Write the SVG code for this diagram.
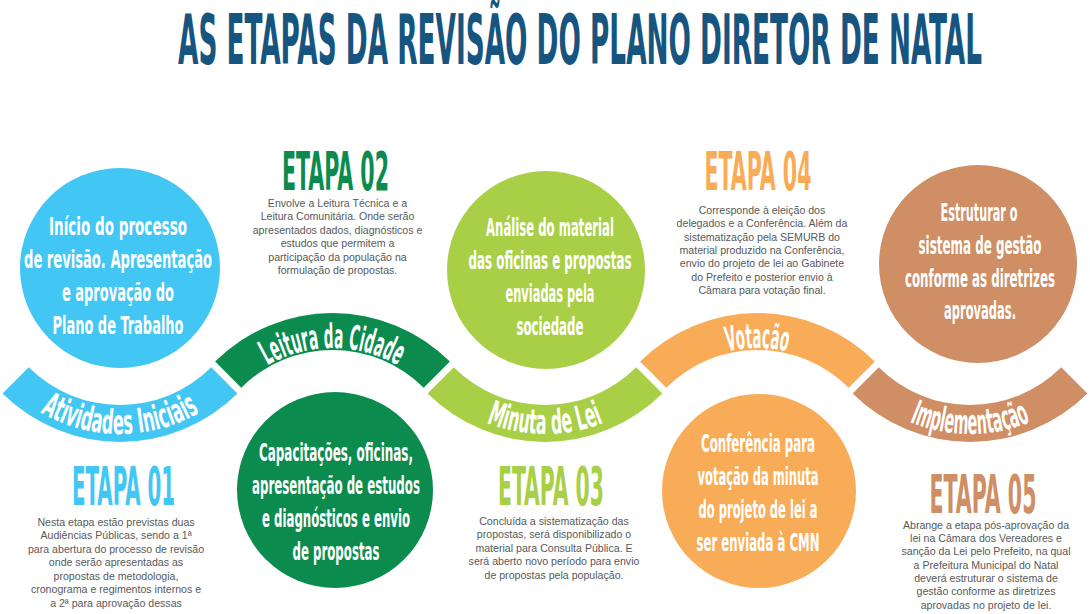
<svg xmlns="http://www.w3.org/2000/svg" width="1090" height="614" viewBox="0 0 1090 614">
<style>
.d{font-family:"Liberation Sans Narrow","DejaVu Sans Condensed","Liberation Sans",sans-serif;font-weight:bold}
.ti{font-size:70px;fill:#16557F;text-anchor:middle}
.ct{font-size:25px;fill:#fff;text-anchor:middle}
.bl{font-size:34px;fill:#fff;text-anchor:middle}
.h{font-size:54px;text-anchor:middle}
.p{font-family:"Liberation Sans",Arial,sans-serif;font-size:10.6px;fill:#58595B;text-anchor:middle}
.c1{fill:#42C6F4}.c2{fill:#0C8B4F}.c3{fill:#A9CF46}.c4{fill:#F9AC58}.c5{fill:#CF8E64}
</style>
<defs>
<path id="tp1" d="M 8.28 387.72 A 158 158 0 0 0 231.72 387.72"/>
<path id="tp2" d="M 239.87 386.37 A 131 131 0 0 1 425.13 386.37"/>
<path id="tp3" d="M 433.28 387.72 A 158 158 0 0 0 656.72 387.72"/>
<path id="tp4" d="M 664.87 386.37 A 131 131 0 0 1 850.13 386.37"/>
<path id="tp5" d="M 858.28 387.72 A 158 158 0 0 0 1081.72 387.72"/>
</defs>
<rect width="1090" height="614" fill="#fff"/>
<text class="d ti" x="580" y="64" textLength="804" lengthAdjust="spacingAndGlyphs">AS ETAPAS DA REVISÃO DO PLANO DIRETOR DE NATAL</text>

<g id="connectors"/>

<g id="etapa01">
<path class="c1" d="M 2.62 393.38 A 166 166 0 0 0 237.38 393.38 L 211.22 367.22 A 129 129 0 0 1 28.78 367.22 Z"/>
<text class="d bl"><textPath href="#tp1" startOffset="50%" textLength="167" lengthAdjust="spacingAndGlyphs">Atividades Iniciais</textPath></text>
<circle class="c1" cx="120" cy="268" r="100"/>
<text class="d ct" x="118" y="235" textLength="138" lengthAdjust="spacingAndGlyphs">Início do processo</text>
<text class="d ct" x="118" y="268" textLength="188" lengthAdjust="spacingAndGlyphs">de revisão. Apresentação</text>
<text class="d ct" x="118" y="301" textLength="112" lengthAdjust="spacingAndGlyphs">e aprovação do</text>
<text class="d ct" x="118" y="334" textLength="131" lengthAdjust="spacingAndGlyphs">Plano de Trabalho</text>
<text class="d h c1" x="123.5" y="505" textLength="103" lengthAdjust="spacingAndGlyphs">ETAPA 01</text>
<text class="p" x="116" y="526">Nesta etapa estão previstas duas</text>
<text class="p" x="116" y="539.45">Audiências Públicas, sendo a 1ª</text>
<text class="p" x="116" y="552.9">para abertura do processo de revisão</text>
<text class="p" x="116" y="566.35">onde serão apresentadas as</text>
<text class="p" x="116" y="579.8">propostas de metodologia,</text>
<text class="p" x="116" y="593.25">cronograma e regimentos internos e</text>
<text class="p" x="116" y="606.7">a 2ª para aprovação dessas</text>
</g>

<g id="etapa02">
<path class="c2" d="M 215.12 361.62 A 166 166 0 0 1 449.88 361.62 L 423.72 387.78 A 129 129 0 0 0 241.28 387.78 Z"/>
<text class="d bl"><textPath href="#tp2" startOffset="50%" textLength="136" lengthAdjust="spacingAndGlyphs">Leitura da Cidade</textPath></text>
<circle class="c2" cx="335" cy="490" r="98"/>
<text class="d ct" x="336" y="461" textLength="154" lengthAdjust="spacingAndGlyphs">Capacitações, oficinas,</text>
<text class="d ct" x="336" y="494" textLength="168" lengthAdjust="spacingAndGlyphs">apresentação de estudos</text>
<text class="d ct" x="336" y="527" textLength="148" lengthAdjust="spacingAndGlyphs">e diagnósticos e envio</text>
<text class="d ct" x="336" y="560" textLength="87" lengthAdjust="spacingAndGlyphs">de propostas</text>
<text class="d h c2" x="335.5" y="190" textLength="107" lengthAdjust="spacingAndGlyphs">ETAPA 02</text>
<text class="p" x="337.5" y="206.7">Envolve a Leitura Técnica e a</text>
<text class="p" x="337.5" y="220.15">Leitura Comunitária. Onde serão</text>
<text class="p" x="337.5" y="233.6">apresentados dados, diagnósticos e</text>
<text class="p" x="337.5" y="247.05">estudos que permitem a</text>
<text class="p" x="337.5" y="260.5">participação da população na</text>
<text class="p" x="337.5" y="273.95">formulação de propostas.</text>
</g>

<g id="etapa03">
<path class="c3" d="M 427.62 393.38 A 166 166 0 0 0 662.38 393.38 L 636.22 367.22 A 129 129 0 0 1 453.78 367.22 Z"/>
<text class="d bl"><textPath href="#tp3" startOffset="50%" textLength="120" lengthAdjust="spacingAndGlyphs">Minuta de Lei</textPath></text>
<circle class="c3" cx="546" cy="270" r="99"/>
<text class="d ct" x="550" y="236" textLength="128" lengthAdjust="spacingAndGlyphs">Análise do material</text>
<text class="d ct" x="550" y="269" textLength="163" lengthAdjust="spacingAndGlyphs">das oficinas e propostas</text>
<text class="d ct" x="550" y="302" textLength="89" lengthAdjust="spacingAndGlyphs">enviadas pela</text>
<text class="d ct" x="550" y="335" textLength="67" lengthAdjust="spacingAndGlyphs">sociedade</text>
<text class="d h c3" x="551" y="505" textLength="106" lengthAdjust="spacingAndGlyphs">ETAPA 03</text>
<text class="p" x="554" y="525">Concluída a sistematização das</text>
<text class="p" x="554" y="538.45">propostas, será disponibilizado o</text>
<text class="p" x="554" y="551.9">material para Consulta Pública. E</text>
<text class="p" x="554" y="565.35">será aberto novo período para envio</text>
<text class="p" x="554" y="578.8">de propostas pela população.</text>
</g>

<g id="etapa04">
<path class="c4" d="M 640.12 361.62 A 166 166 0 0 1 874.88 361.62 L 848.72 387.78 A 129 129 0 0 0 666.28 387.78 Z"/>
<text class="d bl"><textPath href="#tp4" startOffset="50%" textLength="60" lengthAdjust="spacingAndGlyphs">Votação</textPath></text>
<circle class="c4" cx="759" cy="491" r="97"/>
<text class="d ct" x="758" y="452" textLength="114" lengthAdjust="spacingAndGlyphs">Conferência para</text>
<text class="d ct" x="758" y="485" textLength="121" lengthAdjust="spacingAndGlyphs">votação da minuta</text>
<text class="d ct" x="758" y="518" textLength="119" lengthAdjust="spacingAndGlyphs">do projeto de lei a</text>
<text class="d ct" x="758" y="551" textLength="123" lengthAdjust="spacingAndGlyphs">ser enviada à CMN</text>
<text class="d h c4" x="758" y="190" textLength="107" lengthAdjust="spacingAndGlyphs">ETAPA 04</text>
<text class="p" x="762" y="214">Corresponde à eleição dos</text>
<text class="p" x="762" y="227.35">delegados e a Conferência. Além da</text>
<text class="p" x="762" y="240.7">sistematização pela SEMURB do</text>
<text class="p" x="762" y="254.05">material produzido na Conferência,</text>
<text class="p" x="762" y="267.4">envio do projeto de lei ao Gabinete</text>
<text class="p" x="762" y="280.75">do Prefeito e posterior envio à</text>
<text class="p" x="762" y="294.1">Câmara para votação final.</text>
</g>

<g id="etapa05">
<path class="c5" d="M 852.62 393.38 A 166 166 0 0 0 1087.38 393.38 L 1061.22 367.22 A 129 129 0 0 1 878.78 367.22 Z"/>
<text class="d bl"><textPath href="#tp5" startOffset="50%" textLength="124" lengthAdjust="spacingAndGlyphs">Implementação</textPath></text>
<circle class="c5" cx="978" cy="264" r="99"/>
<text class="d ct" x="979" y="221" textLength="77" lengthAdjust="spacingAndGlyphs">Estruturar o</text>
<text class="d ct" x="980" y="254" textLength="123" lengthAdjust="spacingAndGlyphs">sistema de gestão</text>
<text class="d ct" x="980" y="287" textLength="150" lengthAdjust="spacingAndGlyphs">conforme as diretrizes</text>
<text class="d ct" x="980" y="319" textLength="72" lengthAdjust="spacingAndGlyphs">aprovadas.</text>
<text class="d h c5" x="983" y="513" textLength="107" lengthAdjust="spacingAndGlyphs">ETAPA 05</text>
<text class="p" x="986" y="528.5">Abrange a etapa pós-aprovação da</text>
<text class="p" x="986" y="541.85">lei na Câmara dos Vereadores e</text>
<text class="p" x="986" y="555.2">sanção da Lei pelo Prefeito, na qual</text>
<text class="p" x="986" y="568.55">a Prefeitura Municipal do Natal</text>
<text class="p" x="986" y="581.9">deverá estruturar o sistema de</text>
<text class="p" x="986" y="595.25">gestão conforme as diretrizes</text>
<text class="p" x="986" y="608.6">aprovadas no projeto de lei.</text>
</g>
</svg>
